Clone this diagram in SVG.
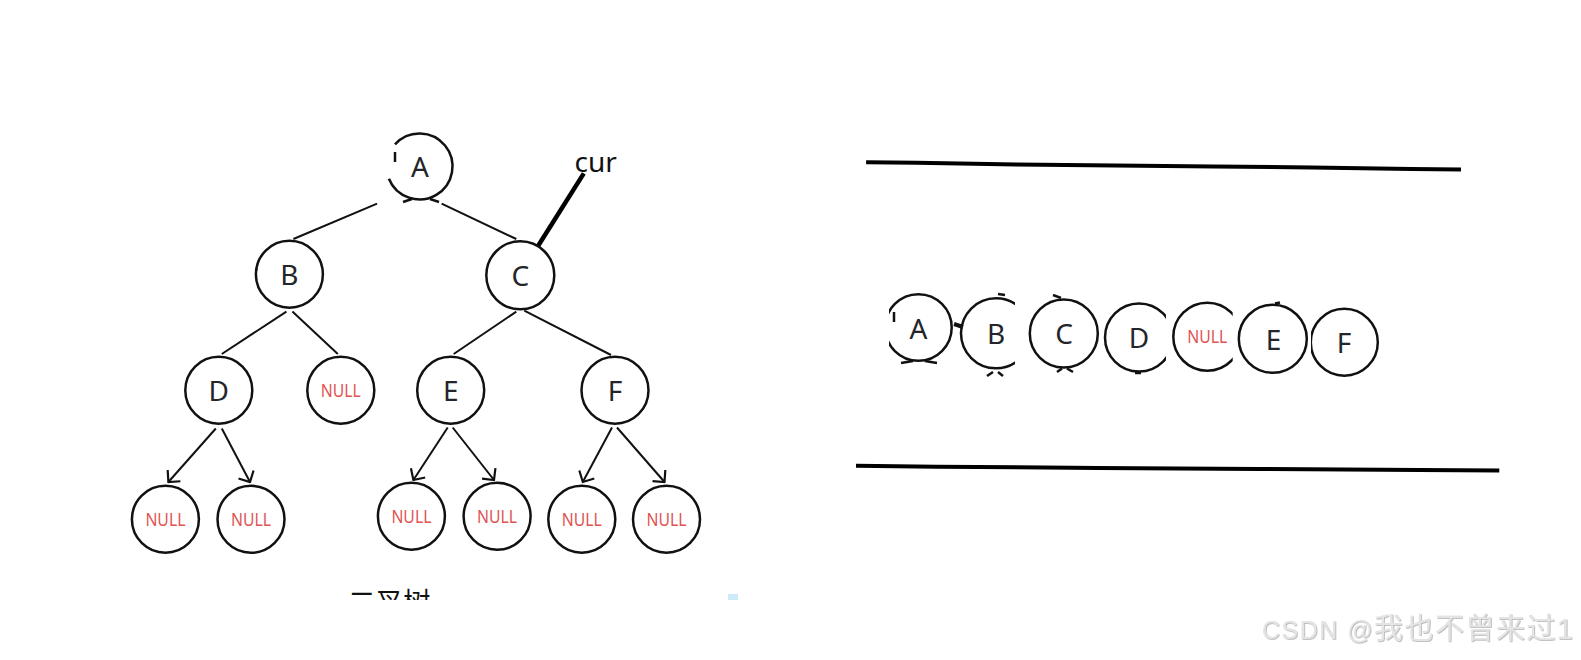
<svg xmlns="http://www.w3.org/2000/svg" width="1581" height="660" viewBox="0 0 1581 660">
<style>
.n{fill:#fff;stroke:#111;stroke-width:2.5}
.o{fill:none;stroke:#111;stroke-width:2.5}
.t{font-family:"Noto Sans","Open Sans",sans-serif;font-size:28px;fill:#24252b;text-anchor:middle}
.nl{font-family:"Noto Sans","Open Sans",sans-serif;font-size:18px;fill:#df5353;text-anchor:middle}
.e{stroke:#111;stroke-width:2;fill:none}
.ea{stroke:#111;stroke-width:2;fill:none;marker-end:url(#arr)}
.m{stroke:#111;stroke-width:2.5;fill:none}
.rail{stroke:#000;stroke-width:4;fill:none;stroke-linejoin:round}
</style>
<defs>
<marker id="arr" viewBox="0 0 11 19" markerWidth="11" markerHeight="19" refX="9.5" refY="9.5" orient="auto" markerUnits="userSpaceOnUse">
<path d="M1,1 L9.5,9.5 L1,18" fill="none" stroke="#111" stroke-width="2.2"/>
</marker>
<clipPath id="cA"><rect x="889" y="280" width="100" height="100"/></clipPath>
<clipPath id="cB"><rect x="950" y="280" width="65" height="110"/></clipPath>
<clipPath id="cD"><rect x="1095" y="280" width="71" height="110"/></clipPath>
<clipPath id="cN"><rect x="1165" y="280" width="67.7" height="110"/></clipPath>
<clipPath id="cF"><rect x="1311" y="290" width="80" height="110"/></clipPath>
<clipPath id="cap"><rect x="300" y="570" width="500" height="30"/></clipPath>
<filter id="emb" x="-5%" y="-20%" width="110%" height="140%"><feDropShadow dx="0.7" dy="0.7" stdDeviation="0.4" flood-color="#a8a8a8"/></filter>
</defs>
<rect width="1581" height="660" fill="#fff"/>

<g id="connectors">
<line class="e" x1="377.1" y1="203.7" x2="293.4" y2="239"/>
<line class="e" x1="441.6" y1="203.7" x2="516.3" y2="239"/>
<line class="e" x1="286.4" y1="311.6" x2="221.8" y2="354"/>
<line class="e" x1="292.4" y1="311.6" x2="337.8" y2="354"/>
<line class="e" x1="516.3" y1="311.6" x2="453.7" y2="354"/>
<line class="e" x1="524.3" y1="310.6" x2="611" y2="355"/>
<line class="ea" x1="215.8" y1="428.5" x2="168.4" y2="482"/>
<line class="ea" x1="221.8" y1="428.5" x2="250" y2="482"/>
<line class="ea" x1="447.7" y1="427.5" x2="413.4" y2="480"/>
<line class="ea" x1="452.7" y1="427.5" x2="494" y2="480"/>
<line class="ea" x1="612" y1="427.5" x2="582.8" y2="482"/>
<line class="ea" x1="617" y1="427.5" x2="664.5" y2="482"/>
<line x1="583.8" y1="173.4" x2="537.4" y2="247" stroke="#000" stroke-width="4.5"/>
</g>

<g id="tree-A">
<path class="o" d="M395,144.3 A33,33 0 1 1 388.9,178.8"/>
<line class="m" x1="395" y1="152" x2="395" y2="162" stroke-width="3"/>
<line class="m" x1="403" y1="202" x2="412" y2="199" stroke-width="2"/>
<line class="m" x1="430" y1="199" x2="439" y2="202" stroke-width="2"/>
<text class="t" x="420" y="177">A</text>
</g>
<g id="tree-B"><circle class="n" cx="289.4" cy="274.3" r="33.5"/><line class="m" x1="255.5" y1="269" x2="257.5" y2="270"/><text class="t" x="289.4" y="284.5">B</text></g>
<g id="tree-C"><circle class="n" cx="520.3" cy="275.3" r="34"/><text class="t" x="520.3" y="285.5">C</text></g>
<g id="cur-label"><text x="574.5" y="172" font-family="Noto Sans, sans-serif" font-size="28" fill="#111">cur</text></g>
<g id="tree-D"><circle class="n" cx="218.8" cy="390.2" r="33.5"/><text class="t" x="218.8" y="400.5">D</text></g>
<g id="tree-NULL-B"><circle class="n" cx="340.8" cy="390.2" r="33.5"/><text class="nl" x="340.8" y="396.5" textLength="40" lengthAdjust="spacingAndGlyphs">NULL</text></g>
<g id="tree-E"><circle class="n" cx="450.7" cy="390.2" r="33.5"/><text class="t" x="450.7" y="400.5">E</text></g>
<g id="tree-F"><circle class="n" cx="615" cy="390.2" r="33.5"/><text class="t" x="615" y="400.5">F</text></g>
<g id="tree-NULL-D1"><circle class="n" cx="165.4" cy="519.3" r="33.5"/><text class="nl" x="165.4" y="525.8" textLength="40" lengthAdjust="spacingAndGlyphs">NULL</text></g>
<g id="tree-NULL-D2"><circle class="n" cx="251" cy="519.3" r="33.5"/><text class="nl" x="251" y="525.8" textLength="40" lengthAdjust="spacingAndGlyphs">NULL</text></g>
<g id="tree-NULL-E1"><circle class="n" cx="411.4" cy="516.3" r="33.5"/><text class="nl" x="411.4" y="522.8" textLength="40" lengthAdjust="spacingAndGlyphs">NULL</text></g>
<g id="tree-NULL-E2"><circle class="n" cx="497.1" cy="516.3" r="33.5"/><text class="nl" x="497.1" y="522.8" textLength="40" lengthAdjust="spacingAndGlyphs">NULL</text></g>
<g id="tree-NULL-F1"><circle class="n" cx="581.8" cy="519.3" r="33.5"/><text class="nl" x="581.8" y="525.8" textLength="40" lengthAdjust="spacingAndGlyphs">NULL</text></g>
<g id="tree-NULL-F2"><circle class="n" cx="666.5" cy="519.3" r="33.5"/><text class="nl" x="666.5" y="525.8" textLength="40" lengthAdjust="spacingAndGlyphs">NULL</text></g>

<g id="caption" clip-path="url(#cap)">
<text x="348" y="612" font-family="Noto Sans CJK SC, sans-serif" font-size="27.5" fill="#111">二叉树</text>
<rect x="728" y="594" width="10" height="7" fill="#cdeaf8"/>
</g>

<g id="rails">
<polyline class="rail" points="866.1,162.3 916.5,162.8 1016.4,164.4 1115.2,165.4 1214,166.4 1311.8,167.4 1411.6,168.9 1461,169.4"/>
<polyline class="rail" points="856,465.8 936.7,466.8 1098,467.9 1258.4,468.9 1418.7,469.9 1499.3,470.4"/>
</g>

<g id="seq-A">
<circle class="o" cx="918.4" cy="327.5" r="33.3" clip-path="url(#cA)"/>
<line class="m" x1="894" y1="312" x2="894" y2="322" stroke-width="3"/>
<line class="m" x1="901" y1="363" x2="913" y2="361" stroke-width="2"/>
<line class="m" x1="925" y1="361" x2="937" y2="363" stroke-width="2"/>
<line x1="954" y1="324" x2="963" y2="327" stroke="#111" stroke-width="4"/>
<text class="t" x="918.5" y="338.5">A</text>
</g>
<g id="seq-B">
<circle class="o" cx="996" cy="333.3" r="35" clip-path="url(#cB)"/>
<line class="m" x1="998" y1="294" x2="1005" y2="295" stroke-width="2"/>
<line class="m" x1="987" y1="376" x2="993" y2="372" stroke-width="1.8"/>
<line class="m" x1="998" y1="372" x2="1003" y2="376" stroke-width="1.8"/>
<text class="t" x="996" y="344">B</text>
</g>
<g id="seq-C">
<circle class="o" cx="1063.8" cy="333.5" r="34"/>
<line class="m" x1="1053" y1="295" x2="1061" y2="298" stroke-width="2"/>
<line class="m" x1="1057" y1="372" x2="1062" y2="368.5" stroke-width="1.8"/>
<line class="m" x1="1067" y1="368.5" x2="1073" y2="372" stroke-width="1.8"/>
<text class="t" x="1064" y="344">C</text>
</g>
<g id="seq-D">
<circle class="o" cx="1139" cy="337.5" r="34" clip-path="url(#cD)"/>
<line class="m" x1="1135" y1="373" x2="1141" y2="373" stroke-width="1.5"/>
<text class="t" x="1139" y="348">D</text>
</g>
<g id="seq-NULL">
<circle class="o" cx="1207.3" cy="336.7" r="34" clip-path="url(#cN)"/>
<text class="nl" x="1207.3" y="343" textLength="40" lengthAdjust="spacingAndGlyphs">NULL</text>
</g>
<g id="seq-E">
<circle class="o" cx="1272.8" cy="338.8" r="34"/>
<line class="m" x1="1275" y1="303.5" x2="1280" y2="302.5" stroke-width="1.8"/>
<text class="t" x="1273.5" y="349.5">E</text>
</g>
<g id="seq-F">
<circle class="o" cx="1344.3" cy="342.2" r="33.5" clip-path="url(#cF)"/>
<text class="t" x="1344" y="353">F</text>
</g>

<g id="watermark" filter="url(#emb)">
<text x="1262" y="639" fill="#e4e4e4" textLength="311" lengthAdjust="spacing" font-family="Liberation Sans, Noto Sans CJK SC, sans-serif"><tspan font-size="25">CSDN @</tspan><tspan font-size="29" font-family="Noto Sans CJK SC, sans-serif">我也不曾来过</tspan><tspan font-size="29">1</tspan></text>
</g>
</svg>
